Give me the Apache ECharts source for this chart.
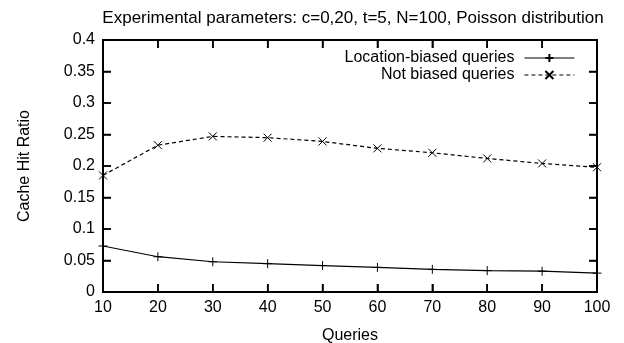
<!DOCTYPE html>
<html>
<head>
<meta charset="utf-8">
<script src="https://cdn.jsdelivr.net/npm/echarts@6/dist/echarts.min.js"></script>
<style>
  html, body { margin: 0; padding: 0; background: #fff; }
  #chart { width: 624px; height: 343px; }
</style>
</head>
<body>
<div id="chart"></div>
<script>
// 数据
const queries = [10, 20, 30, 40, 50, 60, 70, 80, 90, 100]
const yTicks = [0, 0.05, 0.1, 0.15, 0.2, 0.25, 0.3, 0.35, 0.4]
const locationBiased = [0.073, 0.056, 0.048, 0.045, 0.042, 0.039, 0.036, 0.034, 0.033, 0.030]
const notBiased = [0.185, 0.233, 0.247, 0.245, 0.239, 0.228, 0.221, 0.212, 0.204, 0.198]
const seriesNames = ['Location-biased queries', 'Not biased queries']

const font = 'Liberation Sans, Arial, Helvetica, sans-serif'
const black = '#000000'
const tickLen = 8

const pairs = (ys) => queries.map((x, i) => [x, ys[i]])

// 坐标轴（gnuplot 风格，四边边框，刻度朝内）
const frameAxis = (extra) => Object.assign({
  type: 'value',
  axisLine: { show: true, onZero: false, lineStyle: { color: black, width: 2 } },
  axisTick: { show: true, inside: true, length: tickLen, lineStyle: { color: black, width: 1.5 } },
  splitLine: { show: false }
}, extra)

// 外框和刻度，用坐标轴的比例尺换算位置
const renderFrame = (params, api) => {
  const xMin = queries[0]
  const xMax = queries[queries.length - 1]
  const yMin = yTicks[0]
  const yMax = yTicks[yTicks.length - 1]
  const [x0, y0] = api.coord([xMin, yMin])
  const [x1, y1] = api.coord([xMax, yMax])
  const stroke = { stroke: black, lineWidth: 1.5 }
  const children = [{
    type: 'rect',
    shape: { x: x0, y: y1, width: x1 - x0, height: y0 - y1 },
    style: { fill: null, stroke: black, lineWidth: 2 }
  }]
  queries.forEach((q) => {
    const x = api.coord([q, yMin])[0]
    children.push({ type: 'line', shape: { x1: x, y1: y0, x2: x, y2: y0 - tickLen }, style: stroke })
    children.push({ type: 'line', shape: { x1: x, y1: y1, x2: x, y2: y1 + tickLen }, style: stroke })
  })
  yTicks.forEach((t) => {
    const y = api.coord([xMin, t])[1]
    children.push({ type: 'line', shape: { x1: x0, y1: y, x2: x0 + tickLen, y2: y }, style: stroke })
    children.push({ type: 'line', shape: { x1: x1, y1: y, x2: x1 - tickLen, y2: y }, style: stroke })
  })
  return { type: 'group', children }
}

const myChart = echarts.init(document.getElementById('chart'))

const option = {
  backgroundColor: '#fff',
  animation: false,
  textStyle: { fontFamily: font, color: black },
  title: {
    text: 'Experimental parameters: c=0,20, t=5, N=100, Poisson distribution',
    left: 348,
    top: 5,
    textAlign: 'center',
    textStyle: { fontSize: 17, fontWeight: 'normal', color: black }
  },
  legend: {
    orient: 'vertical',
    right: 44,
    top: 45,
    align: 'right',
    itemWidth: 50,
    itemHeight: 10,
    itemGap: 1,
    data: seriesNames,
    lineStyle: { width: 1.2 },
    textStyle: { fontSize: 16, color: black, padding: [0, 5, 0, 0] }
  },
  grid: { left: 103, right: 27, top: 40, bottom: 51, outerBoundsMode: 'none' },
  xAxis: [
    frameAxis({
      position: 'bottom',
      min: 10, max: 100, interval: 10,
      name: 'Queries',
      nameLocation: 'middle',
      nameGap: 36,
      nameTextStyle: { fontSize: 16, color: black },
      axisLabel: { fontSize: 16, color: black }
    }),
    frameAxis({
      position: 'top',
      min: 10, max: 100, interval: 10,
      axisLabel: { show: false }
    })
  ],
  yAxis: [
    frameAxis({
      position: 'left',
      min: 0, max: 0.4, interval: 0.05,
      name: 'Cache Hit Ratio',
      nameLocation: 'middle',
      nameRotate: 90,
      nameGap: 70,
      nameTextStyle: { fontSize: 16, color: black },
      axisLabel: { fontSize: 16, color: black, formatter: (v) => String(+v.toFixed(2)) }
    }),
    frameAxis({
      position: 'right',
      min: 0, max: 0.4, interval: 0.05,
      axisLabel: { show: false }
    })
  ],
  series: [
    {
      name: seriesNames[0],
      type: 'line',
      data: pairs(locationBiased),
      color: black,
      symbol: 'path://M5,0V10M0,5H10',
      symbolSize: 9,
      showAllSymbol: true,
      itemStyle: { color: black, borderColor: black, borderWidth: 1 },
      lineStyle: { color: black, width: 1.2, type: 'solid' },
      emphasis: { disabled: true }
    },
    {
      name: seriesNames[1],
      type: 'line',
      data: pairs(notBiased),
      color: black,
      symbol: 'path://M0,0L10,10M10,0L0,10',
      symbolSize: 8,
      showAllSymbol: true,
      itemStyle: { color: black, borderColor: black, borderWidth: 1 },
      lineStyle: { color: black, width: 1.2, type: [4, 3] },
      emphasis: { disabled: true }
    },
    {
      name: 'frame',
      type: 'custom',
      coordinateSystem: 'cartesian2d',
      silent: true,
      clip: false,
      z: 3,
      data: [[queries[0], yTicks[0]]],
      renderItem: renderFrame
    }
  ]
}

myChart.setOption(option)
window.addEventListener('resize', () => {
  myChart.resize()
})
</script>
</body>
</html>
